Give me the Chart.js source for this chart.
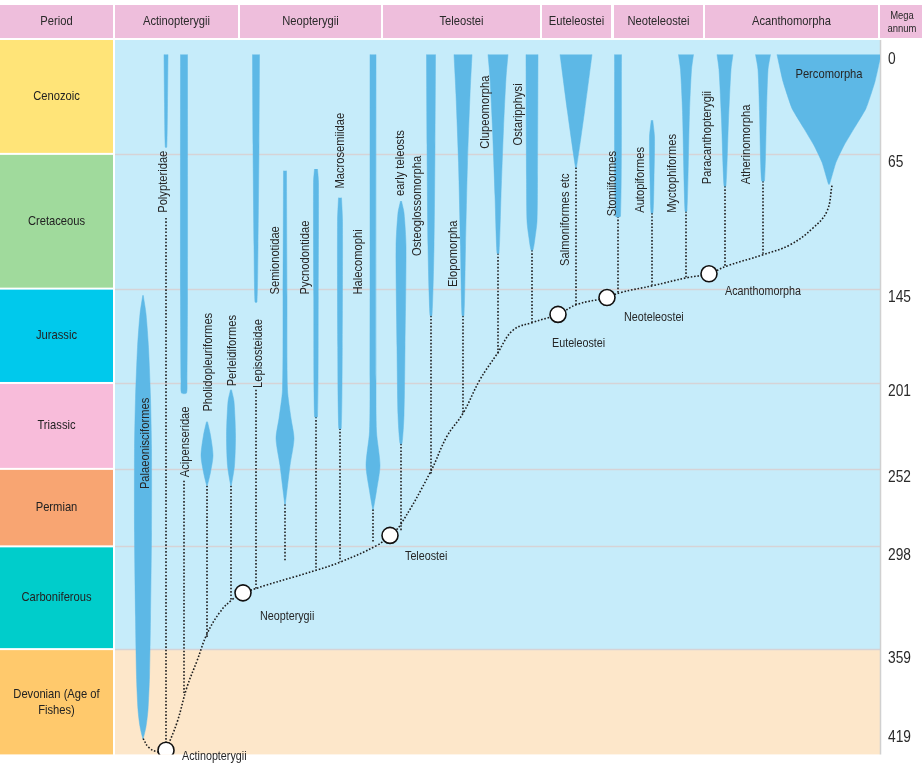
<!DOCTYPE html>
<html>
<head>
<meta charset="utf-8">
<script src="https://cdn.jsdelivr.net/npm/chart.js@4.4.1/dist/chart.umd.min.js"></script>
<style>
  html, body { margin: 0; padding: 0; background: #fff; }
  canvas { display: block; }
</style>
</head>
<body>
<canvas id="tree" width="922" height="764"></canvas>
<script>
// ages in Ma, lanes = horizontal slot of each lineage across the plot
const periods = ["Cenozoic", "Cretaceous", "Jurassic", "Triassic", "Permian", "Carboniferous", "Devonian (Age of|Fishes)"];
const periodStart = [0, 65, 145, 201, 252, 298, 359];
const periodEnd = [65, 145, 201, 252, 298, 359, 419];
const ageTicks = [0, 65, 145, 201, 252, 298, 359, 419];

const clades = ["Actinopterygii", "Neopterygii", "Teleostei", "Euteleostei", "Neoteleostei", "Acanthomorpha"];
const cladeFrom = [0, 125, 268, 427, 499, 590];
const cladeTo = [123, 266, 425, 496, 588, 763];

const taxa = ["Palaeonisciformes", "Polypteridae", "Acipenseridae", "Pholidopleuriformes", "Perleidiformes",
  "Lepisosteidae", "Semionotidae", "Pycnodontidae", "Macrosemiidae", "Halecomophi", "early teleosts",
  "Osteoglossomorpha", "Elopomorpha", "Clupeomorpha", "Ostaripphysi", "Salmoniformes etc", "Stomiiformes",
  "Autopiformes", "Myctophiformes", "Paracanthopterygii", "Atherinomorpha", "Percomorpha"];
const taxonLane = [28, 51, 69, 92, 116, 141, 170, 201, 225, 258, 286, 316, 348, 383, 417, 461, 503, 537, 571, 610, 648, 714];
// [age, relative diversity] pairs down each spindle
const taxonShape = [
  [[149, 0.5], [160, 6], [180, 11], [210, 15], [240, 17], [290, 17], [340, 15], [375, 13], [395, 10], [405, 6], [412, 0.5]],
  [[6, 4], [35, 3], [61, 1.5]],
  [[6, 7], [150, 7], [200, 6], [207, 5]],
  [[224, 1], [232, 7], [244, 12], [254, 7], [262, 0.5]],
  [[205, 1], [212, 6], [232, 9], [250, 7], [262, 0.5]],
  [[6, 7], [60, 6], [120, 4], [153, 2]],
  [[75, 3], [150, 4], [205, 5], [222, 12], [234, 18], [250, 10], [273, 0.5]],
  [[74, 3], [82, 5], [150, 4.5], [221, 3]],
  [[91, 3], [105, 5], [180, 4.5], [228, 2.5]],
  [[6, 6], [200, 6], [230, 7], [250, 14], [265, 7], [276, 0.5]],
  [[93, 1], [100, 6], [120, 10], [180, 8], [220, 6], [237, 2]],
  [[6, 9], [60, 8], [120, 6], [161, 2]],
  [[6, 18], [30, 14], [70, 9], [120, 5], [161, 2]],
  [[6, 20], [20, 16], [50, 11], [90, 6], [124, 2]],
  [[6, 12], [80, 11], [105, 10], [115, 6], [122, 2]],
  [[6, 32], [40, 17], [73, 1]],
  [[6, 7], [102, 5]],
  [[45, 1.5], [55, 5], [80, 4], [100, 2]],
  [[6, 15], [15, 11], [40, 7], [99, 2]],
  [[6, 16], [15, 12], [45, 7], [84, 2]],
  [[6, 15], [15, 10], [40, 7], [81, 3]],
  [[6, 104], [22, 92], [38, 74], [50, 50], [60, 30], [70, 14], [83, 1]]
];
// dotted stem from the end of each spindle down to the tree
const stemTop = [null, 103, 259, 262, 262, 205, 273, 221, 228, 276, 237, 161, 161, 124, 122, 73, 102, 100, 99, 84, 81, null];
const stemEnd = [null, 419, 386, 352, 329.5, 323, 307, 312, 307, 296, 289, 255, 219, 183.5, 165, 155, 148.5, 143, 138.5, 131.5, 124.5, null];
// where each vertical name starts (bottom of the text)
const labelLane = [30, 48, 70, 93, 117, 143, 160, 190, 225, 243, 285, 302, 338, 370, 403, 450, 497, 525, 557, 592, 631, 714];
const labelAge = [264, 100, 257, 218, 203, 204, 148.5, 148.5, 85.6, 148.5, 90, 125.6, 144, 62, 60, 131.5, 102, 100, 100, 83, 83, 18];

const nodes = ["Actinopterygii", "Neopterygii", "Teleostei", "Euteleostei", "Neoteleostei", "Acanthomorpha"];
const nodeLane = [51, 128, 275, 443, 492, 594];
const nodeAge = [419, 325.6, 291.5, 160.3, 150.3, 136.2];

const backboneLane = [51, 62, 72, 82, 92, 105, 117, 128, 202, 225, 262, 275, 285, 315, 332, 348, 365, 382, 398, 418,
  443, 462, 492, 505, 538, 572, 594, 612, 648, 675, 698, 712, 717];
const backboneAge = [419, 402.6, 381.5, 366, 350, 337, 329.7, 325.6, 312, 307.4, 297.4, 291.5, 285.6, 254.4, 232.6, 219,
  199, 183.8, 169.7, 165, 160.3, 154.4, 150.3, 147.4, 143.2, 138.5, 136.2, 131.5, 124.9, 119, 109, 99, 83.8];
const rootLane = [28, 34, 43, 51];
const rootAge = [412, 417.5, 420, 419];

const FONT = "'Liberation Sans', Arial, sans-serif";
const NARROW = 0.86; // squeeze text to look like a condensed face
const periodColors = ["#ffe478", "#a0da9c", "#00c9ec", "#f8bcda", "#f8a572", "#00cdcb", "#ffc96c"];
const spindleColor = "#5db8e6";
const dotColor = "#1e1e1e";

function spindle(lane, shape) {
    const left = shape.map(p => ({ x: lane - p[1] / 2, y: p[0] }));
    const right = shape.slice().reverse().map(p => ({ x: lane + p[1] / 2, y: p[0] }));
    return left.concat(right);
}

function pairs(xs, ys) {
    return xs.map((x, i) => ({ x: x, y: ys[i] }));
}

// narrow text helper, optional rotation
function text(ctx, str, x, y, size, align, rotate) {
    ctx.save();
    ctx.translate(x, y);
    if (rotate) ctx.rotate(-Math.PI / 2);
    ctx.scale(NARROW, 1);
    ctx.font = size + "px " + FONT;
    ctx.textAlign = align;
    ctx.textBaseline = "middle";
    ctx.fillText(str, 0, 0);
    ctx.restore();
}

const datasets = [];

// nodes on top
datasets.push({
    data: pairs(nodeLane, nodeAge),
    showLine: false,
    pointRadius: 8,
    pointBackgroundColor: "#ffffff",
    pointBorderColor: "#111",
    pointBorderWidth: 1.6,
    order: 0
});

taxa.forEach((name, i) => {
    datasets.push({
        data: spindle(taxonLane[i], taxonShape[i]),
        fill: "shape",
        backgroundColor: spindleColor,
        borderColor: spindleColor,
        borderWidth: 0.5,
        pointRadius: 0,
        tension: name === "Percomorpha" ? 0.15 : 0.25,
        order: 1
    });
    if (stemTop[i] !== null) {
        datasets.push({
            data: [{ x: taxonLane[i], y: stemTop[i] }, { x: taxonLane[i], y: stemEnd[i] }],
            borderColor: dotColor,
            borderWidth: 1.6,
            borderDash: [1.6, 1.8],
            pointRadius: 0,
            fill: false,
            order: 2
        });
    }
});

datasets.push({
    data: pairs(backboneLane, backboneAge),
    borderColor: dotColor,
    borderWidth: 1.6,
    borderDash: [1.6, 1.8],
    pointRadius: 0,
    tension: 0.4,
    fill: false,
    order: 2
});
datasets.push({
    data: pairs(rootLane, rootAge),
    borderColor: dotColor,
    borderWidth: 1.6,
    borderDash: [1.6, 1.8],
    pointRadius: 0,
    tension: 0.4,
    fill: false,
    order: 2
});

const backdrop = {
    id: "backdrop",
    beforeDraw(chart) {
        const ctx = chart.ctx;
        const area = chart.chartArea;
        const x = chart.scales.x, y = chart.scales.y;
        ctx.save();
        ctx.fillStyle = "#ffffff";
        ctx.fillRect(0, 0, chart.width, chart.height);

        // header row
        ctx.fillStyle = "#eebedc";
        const hTop = 5, hBot = area.top - 2;
        const hMid = (hTop + hBot) / 2;
        ctx.fillRect(0, hTop, area.left - 2, hBot - hTop);
        clades.forEach((c, i) => {
            const a = x.getPixelForValue(cladeFrom[i]), b = x.getPixelForValue(cladeTo[i]);
            ctx.fillRect(a, hTop, b - a, hBot - hTop);
        });
        ctx.fillRect(area.right, hTop, chart.width - area.right, hBot - hTop);
        ctx.fillStyle = "#2a2a2a";
        text(ctx, "Period", (area.left - 2) / 2, hMid, 13, "center");
        clades.forEach((c, i) => {
            const a = x.getPixelForValue(cladeFrom[i]), b = x.getPixelForValue(cladeTo[i]);
            text(ctx, c, (a + b) / 2, hMid, 13, "center");
        });
        text(ctx, "Mega", (area.right + chart.width) / 2 + 1, 16, 11, "center");
        text(ctx, "annum", (area.right + chart.width) / 2 + 1, 29, 11, "center");

        // plot background
        const split = y.getPixelForValue(359);
        ctx.fillStyle = "#c6ecfa";
        ctx.fillRect(area.left, area.top, area.right - area.left, split - area.top);
        ctx.fillStyle = "#fde7ca";
        ctx.fillRect(area.left, split, area.right - area.left, area.bottom - split);

        // period column
        periods.forEach((p, i) => {
            const t = i === 0 ? area.top : y.getPixelForValue(periodStart[i]) + 1;
            const b = i === periods.length - 1 ? area.bottom : y.getPixelForValue(periodEnd[i]) - 1;
            ctx.fillStyle = periodColors[i];
            ctx.fillRect(0, t, area.left - 2, b - t);
            ctx.fillStyle = "#222";
            const lines = p.split("|");
            lines.forEach((ln, k) => {
                text(ctx, ln, (area.left - 2) / 2, (t + b) / 2 + (k - (lines.length - 1) / 2) * 16, 13, "center");
            });
        });

        // period boundaries
        ctx.strokeStyle = "#d6d3d6";
        ctx.lineWidth = 1.5;
        ageTicks.slice(1, -1).forEach(a => {
            const py = Math.round(y.getPixelForValue(a)) + 0.5;
            ctx.beginPath();
            ctx.moveTo(area.left, py);
            ctx.lineTo(area.right, py);
            ctx.stroke();
        });
        ctx.strokeStyle = "#d0d0d0";
        ctx.beginPath();
        ctx.moveTo(area.right + 0.5, area.top);
        ctx.lineTo(area.right + 0.5, area.bottom);
        ctx.stroke();

        // age ticks on the right
        ctx.fillStyle = "#2a2a2a";
        ageTicks.forEach(a => {
            let py = y.getPixelForValue(a) + 9;
            py = Math.max(py, area.top + 20);
            py = Math.min(py, area.bottom - 17);
            text(ctx, String(a), area.right + 8, py, 16, "left");
        });
        ctx.restore();
    },
    afterDatasetsDraw(chart) {
        const ctx = chart.ctx;
        const x = chart.scales.x, y = chart.scales.y;
        ctx.save();
        ctx.fillStyle = "#262626";
        taxa.forEach((name, i) => {
            const px = x.getPixelForValue(labelLane[i]);
            const py = y.getPixelForValue(labelAge[i]);
            if (name === "Percomorpha") {
                text(ctx, name, px, py, 13, "center");
            } else {
                text(ctx, name, px, py, 13, "left", true);
            }
        });
        const dx = [16, 17, 15, -6, 17, 16];
        const dy = [6, 24, 21, 29, 20, 18];
        nodes.forEach((n, i) => {
            const px = x.getPixelForValue(nodeLane[i]) + dx[i];
            const py = y.getPixelForValue(nodeAge[i]) + dy[i];
            text(ctx, n, px, py, 12.5, "left");
        });
        ctx.restore();
    }
};

new Chart(document.getElementById("tree").getContext("2d"), {
    type: "line",
    data: { datasets: datasets },
    options: {
        responsive: false,
        animation: false,
        events: [],
        layout: { padding: { left: 115, right: 42, top: 40, bottom: 2 } },
        scales: {
            x: { type: "linear", min: 0, max: 765, display: false },
            y: { type: "linear", min: -2.6, max: 421.5, reverse: true, display: false }
        },
        plugins: {
            legend: { display: false },
            tooltip: { enabled: false }
        }
    },
    plugins: [backdrop]
});
</script>
</body>
</html>
